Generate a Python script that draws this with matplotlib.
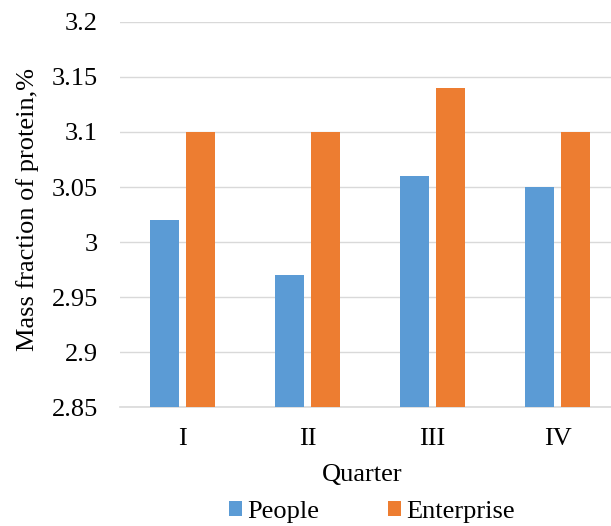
import matplotlib.pyplot as plt
import numpy as np

quarters = ["I", "II", "III", "IV"]
people = [3.02, 2.97, 3.06, 3.05]
enterprise = [3.10, 3.10, 3.14, 3.10]

plt.rcParams["font.family"] = ["Liberation Serif", "DejaVu Serif"]

fig = plt.figure(figsize=(6.11, 5.26), dpi=100)
ax = fig.add_axes([0.1964, 0.2262, 0.8036, 0.732])

x = np.arange(len(quarters))
w = 0.232
ax.bar(x - 0.144, people, w, color="#5B9BD5", label="People", zorder=3)
ax.bar(x + 0.144, enterprise, w, color="#ED7D31", label="Enterprise", zorder=3)

ax.set_ylim(2.85, 3.2)
ax.set_xlim(-0.5, 3.428)
ax.set_yticks([2.85, 2.9, 2.95, 3.0, 3.05, 3.1, 3.15, 3.2])
ax.set_yticklabels(["2.85", "2.9", "2.95", "3", "3.05", "3.1", "3.15", "3.2"])
ax.set_xticks(x)
ax.set_xticklabels(quarters)
ax.tick_params(axis="both", length=0, labelsize=19)
ax.tick_params(axis="x", pad=15)
ax.tick_params(axis="y", pad=16)
ax.grid(axis="y", color="#d9d9d9", linewidth=1.0, zorder=0)
for s in ["top", "right", "left"]:
    ax.spines[s].set_visible(False)
ax.spines["bottom"].set_color("#d9d9d9")
ax.spines["bottom"].set_linewidth(1.2)

ax.set_xlabel("Quarter", fontsize=19)
ax.set_ylabel("Mass fraction of protein,%", fontsize=19)
ax.xaxis.set_label_coords(0.493, -0.148)
ax.yaxis.set_label_coords(-0.165, 0.514)

fig.legend(loc="center", bbox_to_anchor=(0.609, 0.027), ncol=2, frameon=False,
           fontsize=19, handlelength=0.5, handleheight=0.5, handletextpad=0.2,
           columnspacing=2.6, borderpad=0)

fig.savefig("out.png", dpi=100)
